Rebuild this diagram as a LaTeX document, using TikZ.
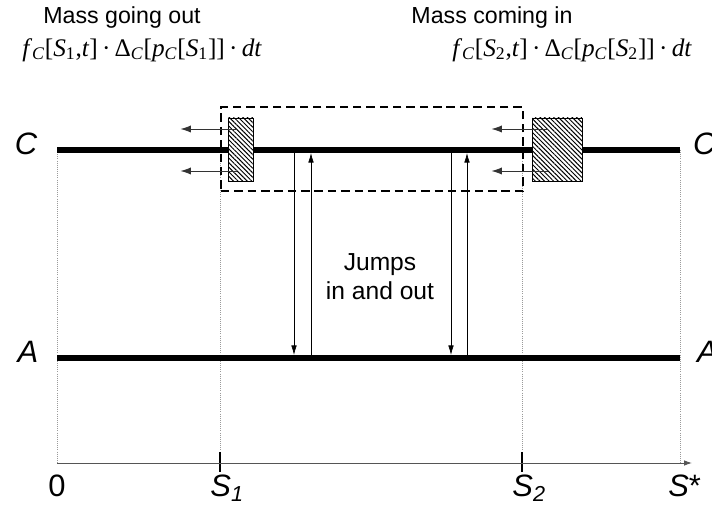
\documentclass[tikz,border=0pt]{standalone}
\usepackage{fontspec}
\setmainfont{Liberation Serif}
\setsansfont{Liberation Sans}
\usetikzlibrary{arrows.meta,patterns.meta}
\definecolor{ink}{HTML}{000000}
\definecolor{guide}{HTML}{9A9A9A}
\definecolor{axisgray}{HTML}{555555}
\newcommand{\massterm}[1]{\textit{f}\textsubscript{\textit{C}}[\textit{S}\textsubscript{#1},\textit{t}]\,·\,Δ\textsubscript{\textit{C}}[\textit{p}\textsubscript{\textit{C}}[\textit{S}\textsubscript{#1}]]\,·\,\textit{dt}}
\tikzset{
  stateline/.style={line width=4.3pt, draw=ink},
  guideline/.style={densely dotted, draw=guide, line width=0.5pt},
  axisline/.style={-{Latex[length=2mm,width=1.4mm]}, line width=0.7pt, draw=axisgray},
  tickline/.style={line width=0.8pt, draw=ink},
  hatchbox/.style={draw=ink, line width=0.7pt, preaction={fill=white}, pattern={Lines[angle=-45, distance=2.3pt, line width=0.7pt]}, inner sep=0pt},
  window/.style={draw=ink, dashed, dash pattern=on 6pt off 3.5pt, line width=1.5pt, inner sep=0pt},
  outflow/.style={-{Latex[length=2.6mm,width=1.8mm]}, line width=0.6pt, draw=ink!80},
  jump/.style={-{Latex[length=2.4mm,width=1.4mm]}, line width=0.5pt, draw=ink, shorten >=0.75mm},
  statelabel/.style={font=\sffamily\itshape\fontsize{22}{26}\selectfont, inner sep=0pt},
  ticklabel/.style={font=\sffamily\fontsize{22}{26}\selectfont, inner sep=0pt},
  heading/.style={font=\sffamily\fontsize{16.5}{20}\selectfont, align=center, inner sep=0pt},
  termtext/.style={font=\fontsize{18}{21}\selectfont, inner sep=0pt}
}
\begin{document}
\begin{tikzpicture}[x=1cm,y=1cm]
\useasboundingbox (0,0) rectangle (17.8,12.75);

% Mass flows at the two ends
\node[heading] (outtitle) at (3.05,12.3) {Mass going out};
\node[termtext, anchor=west] (outterm) at (0.55,11.5) {\massterm{1}};
\node[heading] (intitle) at (12.3,12.3) {Mass coming in};
\node[termtext, anchor=west] (interm) at (11.3,11.5) {\massterm{2}};

% Levels and axis
\coordinate (c0) at (1.425,9.0);
\coordinate (c1) at (17.0,9.0);
\coordinate (a0) at (1.425,3.8);
\coordinate (a1) at (17.0,3.8);
\coordinate (o) at (1.425,1.175);
\coordinate (xend) at (17.3,1.175);
\coordinate (s1) at (5.5,1.175);
\coordinate (s2) at (13.05,1.175);
\coordinate (sstar) at (17.0,1.175);

\draw[guideline] (c0) -- (o);
\draw[guideline] (c1) -- (sstar);
\foreach \s in {s1,s2} {
  \draw[guideline] (\s |- c0) -- ([yshift=0.275cm]\s);
  \draw[tickline] ([yshift=0.275cm]\s) -- ([yshift=-0.225cm]\s);
}
\draw[axisline] (o) -- (xend);

\draw[stateline] (c0) -- (c1);
\draw[stateline] (a0) -- (a1);
\node[statelabel] (cleft) at (0.65,9.15) {C};
\node[statelabel, anchor=west] (cright) at (17.32,9.15) {C};
\node[statelabel] (aleft) at (0.7,3.95) {A};
\node[statelabel, anchor=west] (aright) at (17.42,3.95) {A};

\node[ticklabel, anchor=base] (zero) at (o |- 0,0.33) {0};
\node[ticklabel, anchor=base west] (s1label) at (5.255,0.33) {\textit{S}\textsubscript{\textit{1}}};
\node[ticklabel, anchor=base west] (s2label) at (12.805,0.33) {\textit{S}\textsubscript{\textit{2}}};
\node[ticklabel, anchor=base west] (sstarlabel) at (16.7,0.33) {\textit{S}*};

% Jumps between C and A
\coordinate (j1) at (7.35,9.0);
\coordinate (j2) at (7.775,3.8);
\coordinate (j3) at (11.275,9.0);
\coordinate (j4) at (11.675,3.8);
\draw[jump] (j1) -- (j1 |- a0);
\draw[jump] (j2) -- (j2 |- c0);
\draw[jump] (j3) -- (j3 |- a0);
\draw[jump] (j4) -- (j4 |- c0);
\node[heading, font=\sffamily\fontsize{17.5}{20.5}\selectfont] (jumps) at (9.5,5.825) {Jumps\\in and out};

% Control window and boundary cells
\node[window, minimum width=7.55cm, minimum height=2.1cm] (win) at (9.3,9.025) {};
\node[hatchbox, minimum width=0.625cm, minimum height=1.575cm] (outbox) at (6.0125,9.0125) {};
\node[hatchbox, minimum width=1.25cm, minimum height=1.575cm] (inbox) at (13.925,9.0125) {};
\foreach \dy in {0.5125,-0.5375} {
  \draw[outflow] ([shift={(0.225,\dy)}]outbox.west) -- ++(-1.4,0);
  \draw[outflow] ([shift={(0.4,\dy)}]inbox.west) -- ++(-1.4,0);
}
\end{tikzpicture}
\end{document}
